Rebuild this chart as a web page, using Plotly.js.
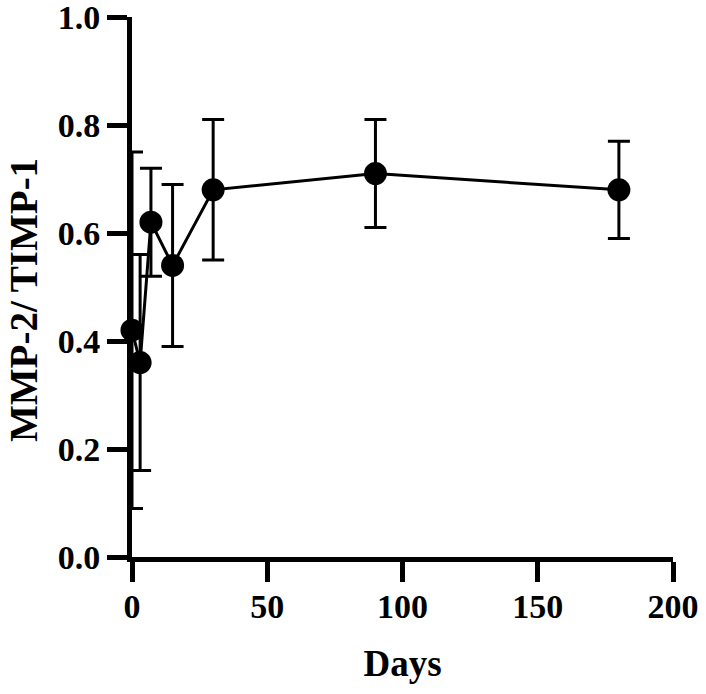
<!DOCTYPE html>
<html>
<head>
<meta charset="utf-8">
<script src="https://cdn.plot.ly/plotly-3.0.1.min.js"></script>
<style>
  html, body { margin: 0; padding: 0; background: #fff; }
  #chart { width: 706px; height: 694px; }
</style>
</head>
<body>
<div id="chart"></div>
<script>
// Time points (days) and MMP-2/TIMP-1 ratio with error
const days = [0, 3, 7, 15, 30, 90, 180];
const ratio = [0.42, 0.36, 0.62, 0.54, 0.68, 0.71, 0.68];
const ratioErr = [0.33, 0.20, 0.10, 0.15, 0.13, 0.10, 0.09];

const xTicks = [0, 50, 100, 150, 200];
const yTicks = [0.0, 0.2, 0.4, 0.6, 0.8, 1.0];

const serif = 'Liberation Serif, Times New Roman, serif';

const trace = {
    type: 'scatter',
    mode: 'lines+markers',
    x: days,
    y: ratio,
    line: { color: '#000', width: 3 },
    marker: { color: '#000', size: 23 },
    error_y: {
        type: 'data',
        array: ratioErr,
        visible: true,
        color: '#000',
        thickness: 3,
        width: 11
    },
    cliponaxis: false,
    showlegend: false
};

const axisCommon = {
    showgrid: false,
    zeroline: false,
    showline: true,
    linecolor: '#000',
    linewidth: 5,
    ticks: 'outside',
    ticklen: 20,
    tickwidth: 5,
    tickcolor: '#000',
    ticklabeloverflow: 'allow',
    tickfont: { family: serif, size: 34, color: '#000', weight: 'bold' }
};

const layout = {
    width: 706,
    height: 694,
    margin: { l: 132, r: 33, t: 17, b: 137 },
    paper_bgcolor: '#fff',
    plot_bgcolor: '#fff',
    xaxis: Object.assign({}, axisCommon, {
        range: [0, 200],
        tickvals: xTicks,
        ticklabelstandoff: -5,
        title: { text: 'Days', font: { family: serif, size: 37, color: '#000', weight: 'bold' }, standoff: 28 }
    }),
    yaxis: Object.assign({}, axisCommon, {
        range: [0, 1],
        tickvals: yTicks,
        tickformat: '.1f'
    }),
    annotations: [{
        text: 'MMP-2/ TIMP-1',
        textangle: -90,
        xref: 'paper', yref: 'paper',
        x: 0, y: 0.5,
        xanchor: 'center', yanchor: 'middle',
        xshift: -109, yshift: -13,
        showarrow: false,
        font: { family: serif, size: 39, color: '#000', weight: 'bold' }
    }]
};

Plotly.newPlot('chart', [trace], layout, { displayModeBar: false });
</script>
</body>
</html>
